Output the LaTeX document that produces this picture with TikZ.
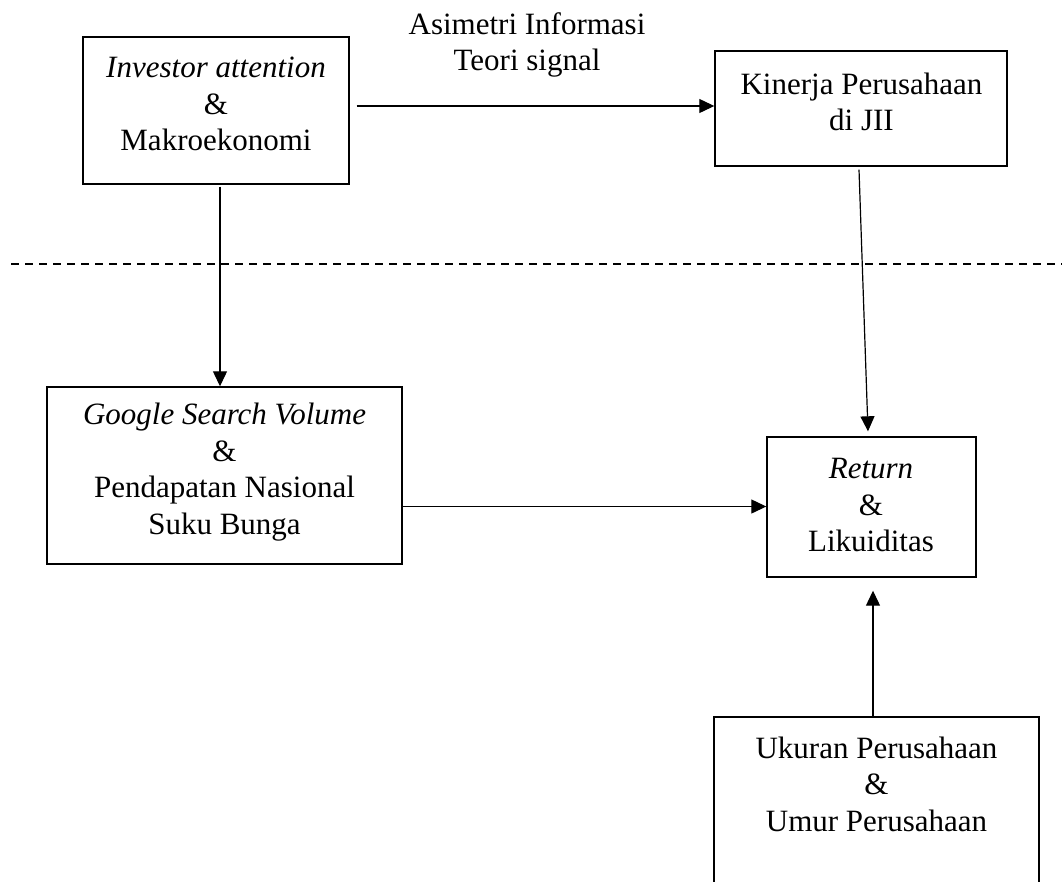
\documentclass[tikz,border=0pt]{standalone}
\usepackage{fontspec}
\setmainfont{Liberation Serif}
\usetikzlibrary{arrows.meta,calc}
\begin{document}
\begin{tikzpicture}[x=1pt,y=-1pt,
  box/.style={draw,line width=1.4pt,rectangle,inner sep=0pt},
  txt/.style={align=center,font=\fontsize{31}{36.5}\selectfont,inner sep=0pt},
  arr/.style={line width=1.2pt,-{Triangle[length=15pt,width=14pt]}},
  sep/.style={line width=1.4pt,dash pattern=on 8pt off 6pt}]
\useasboundingbox (0,0) rectangle (1062,881);
% boxes
\node[box,minimum width=266pt,minimum height=147pt] (b1) at (216,110.5) {};
\node[box,minimum width=292pt,minimum height=115pt] (b2) at (861,108.5) {};
\node[box,minimum width=355pt,minimum height=177pt] (b3) at (224.5,475.5) {};
\node[box,minimum width=209pt,minimum height=140pt] (b4) at (871.5,507) {};
\node[box,minimum width=325pt,minimum height=200pt] (b5) at (876.5,817) {};
% texts
\node[txt] (t1) at (216,104) {\textit{Investor attention}\\\&\\Makroekonomi};
\node[txt] (t2) at (861.5,102) {Kinerja Perusahaan\\di JII};
\node[txt] (t3) at (224.5,472) {\textit{Google Search Volume}\\\&\\Pendapatan Nasional\\Suku Bunga};
\node[txt] (t4) at (871,505) {\textit{Return}\\\&\\Likuiditas};
\node[txt] (t5) at (876.5,784) {Ukuran Perusahaan\\\&\\Umur Perusahaan};
\node[txt] (lab) at (527,45) {Asimetri Informasi\\Teori signal};
% separator
\coordinate (sl) at (11,264);
\coordinate (sr) at (1062,264);
\draw[sep] (sl) -- (sr);
% connectors
\draw[arr] ($(b1.east)+(7,-4.5)$) -- ($(b2.west)+(0,-2.5)$);
\draw[arr] ($(b1.south)+(4,2)$) -- ($(b3.north)+(-4.5,0)$);
\draw[arr] ($(b2.south)+(-2,3)$) -- ($(b4.north)+(-3.5,-5)$);
\draw[arr] ($(b3.east)+(0,31)$) -- ($(b4.west)+(0,-0.5)$);
\draw[arr] ($(b5.north)+(-3.5,0)$) -- ($(b4.south)+(1.5,13)$);
\end{tikzpicture}
\end{document}
